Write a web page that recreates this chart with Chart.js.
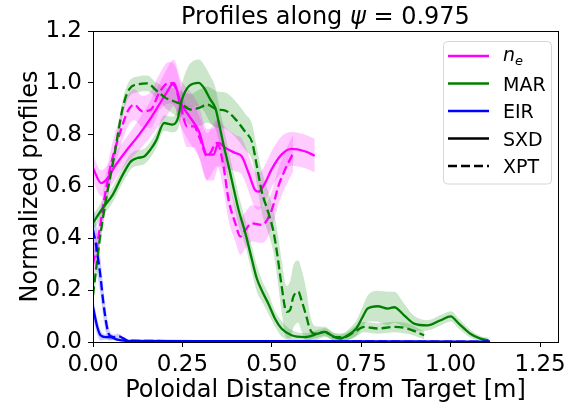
<!DOCTYPE html>
<html><head><meta charset="utf-8">
<script src="https://cdn.jsdelivr.net/npm/chart.js@4.4.0/dist/chart.umd.min.js"></script>
<style>html,body{margin:0;padding:0;background:#fff;}#wrap{width:570px;height:408px;position:relative;}</style>
</head><body><div id="wrap"><canvas id="c" width="570" height="408"></canvas></div>
<script>
// ---- data ----
const neSxdX = [0,0.023,0.037,0.064,0.092,0.129,0.162,0.185,0.205,0.226,0.245,0.27,0.296,0.319,0.337,0.351,0.37,0.398,0.416,0.435,0.453,0.463,0.481,0.499,0.527,0.555,0.592,0.62];
const neSxdY = [0.67,0.613,0.626,0.684,0.736,0.8,0.865,0.916,0.96,1.0,0.923,0.87,0.813,0.723,0.723,0.768,0.749,0.729,0.716,0.652,0.587,0.58,0.613,0.665,0.723,0.745,0.736,0.719];
const neSxdErr = [0.05,0.05,0.05,0.05,0.05,0.06,0.07,0.08,0.09,0.09,0.09,0.1,0.1,0.1,0.1,0.09,0.08,0.07,0.07,0.07,0.07,0.07,0.07,0.07,0.07,0.065,0.065,0.065];

const neXptX = [0,0.013,0.032,0.05,0.074,0.097,0.115,0.138,0.162,0.185,0.212,0.231,0.245,0.263,0.282,0.3,0.319,0.347,0.365,0.379,0.398,0.412,0.426,0.444,0.472,0.5,0.518,0.537,0.56];
const neXptY = [0.3,0.387,0.555,0.684,0.8,0.89,0.916,0.89,0.897,0.961,1.0,0.981,0.91,0.832,0.832,0.781,0.716,0.768,0.677,0.549,0.458,0.407,0.432,0.458,0.452,0.51,0.6,0.665,0.729];
const neXptErr = [0.06,0.06,0.06,0.06,0.06,0.06,0.06,0.06,0.07,0.07,0.08,0.08,0.08,0.08,0.08,0.08,0.09,0.09,0.09,0.08,0.07,0.07,0.07,0.07,0.07,0.07,0.07,0.07,0.07];

const marSxdX = [0,0.027,0.055,0.083,0.106,0.124,0.143,0.162,0.176,0.199,0.222,0.236,0.249,0.268,0.296,0.31,0.328,0.342,0.351,0.365,0.379,0.393,0.407,0.426,0.444,0.458,0.475,0.49,0.509,0.527,0.555,0.592,0.629,0.648,0.666,0.69,0.712,0.736,0.754,0.768,0.796,0.824,0.842,0.87,0.898,0.935,0.972,1.0,1.023,1.055,1.083,1.106];
const marSxdY = [0.46,0.516,0.568,0.645,0.697,0.71,0.716,0.745,0.776,0.845,0.839,0.858,0.936,0.987,1.0,0.981,0.936,0.903,0.852,0.761,0.68,0.594,0.51,0.42,0.32,0.245,0.19,0.149,0.09,0.052,0.026,0.019,0.032,0.039,0.026,0.013,0.026,0.052,0.097,0.129,0.138,0.129,0.134,0.103,0.071,0.064,0.084,0.099,0.071,0.032,0.013,0.006];
const marSxdErr = [0.03,0.03,0.03,0.03,0.03,0.03,0.03,0.03,0.03,0.03,0.03,0.04,0.06,0.08,0.09,0.09,0.09,0.08,0.07,0.07,0.06,0.06,0.06,0.05,0.05,0.05,0.04,0.04,0.03,0.03,0.02,0.015,0.015,0.015,0.015,0.015,0.02,0.03,0.04,0.05,0.06,0.065,0.06,0.045,0.03,0.02,0.02,0.02,0.02,0.015,0.01,0.01];

const marXptX = [0,0.009,0.018,0.037,0.06,0.083,0.101,0.129,0.152,0.176,0.203,0.226,0.249,0.273,0.296,0.319,0.347,0.37,0.398,0.426,0.445,0.458,0.472,0.49,0.504,0.515,0.527,0.541,0.551,0.56,0.574,0.583,0.597,0.606,0.62,0.648,0.676,0.703,0.731,0.759,0.796,0.842,0.879,0.926];
const marXptY = [0.18,0.284,0.387,0.555,0.723,0.903,0.975,0.995,0.998,0.972,0.942,0.929,0.916,0.897,0.903,0.916,0.897,0.893,0.86,0.81,0.77,0.68,0.58,0.5,0.43,0.34,0.22,0.116,0.123,0.174,0.194,0.161,0.097,0.052,0.032,0.039,0.019,0.019,0.039,0.058,0.052,0.058,0.052,0.026];
const marXptErr = [0.03,0.03,0.03,0.03,0.03,0.03,0.03,0.03,0.03,0.03,0.04,0.05,0.05,0.06,0.07,0.07,0.07,0.07,0.07,0.07,0.07,0.07,0.08,0.08,0.08,0.09,0.1,0.1,0.11,0.12,0.12,0.12,0.1,0.06,0.03,0.02,0.015,0.015,0.02,0.02,0.02,0.02,0.02,0.015];

const eirSxdX = [0,0.012,0.021,0.035,0.049,0.065,0.08,0.1,0.3,0.6,0.9,1.11];
const eirSxdY = [0.135,0.058,0.026,0.019,0.019,0.01,0.006,0.004,0.003,0.003,0.002,0.001];
const eirSxdErr = [0.04,0.03,0.02,0.01,0.01,0.005,0.003,0.002,0.002,0.002,0.001,0.001];

const eirXptX = [0,0.007,0.014,0.021,0.027,0.033,0.039,0.046,0.058,0.072,0.086,0.1,0.4,0.8,1.11];
const eirXptY = [0.432,0.387,0.323,0.252,0.174,0.11,0.058,0.026,0.019,0.022,0.013,0.005,0.003,0.002,0.001];
const eirXptErr = [0.1,0.09,0.08,0.07,0.06,0.05,0.04,0.02,0.01,0.01,0.005,0.003,0.002,0.002,0.001];

const xTickValues = [0,0.25,0.5,0.75,1.0,1.25];
const xTickLabels = ['0.00','0.25','0.50','0.75','1.00','1.25'];
const yTickValues = [0,0.2,0.4,0.6,0.8,1.0,1.2];
const yTickLabels = ['0.0','0.2','0.4','0.6','0.8','1.0','1.2'];

const titleParts = [['Profiles along ', 'normal'], ['ψ', 'oblique'], [' = 0.975', 'normal']];

const legendItems = [
  {label:'n', sub:'e', color:'#ff00ff', dash:[]},
  {label:'MAR', color:'#008000', dash:[]},
  {label:'EIR', color:'#0000ff', dash:[]},
  {label:'SXD', color:'#000000', dash:[]},
  {label:'XPT', color:'#000000', dash:[9,4]}
];

// ---- build datasets ----
const FONT = "'DejaVu Sans', sans-serif";
const DASH = [9,4];
const LW = 2.3;
const pts = (xs, ys) => xs.map((x,i)=>({x:x, y:ys[i]}));
const lowPts = (xs, ys, es) => xs.map((x,i)=>({x:x, y:ys[i]-es[i]}));
const upPts = (xs, ys, es) => xs.map((x,i)=>({x:x, y:ys[i]+es[i]}));

function band(xs, ys, es, rgba, order){
  return [
    {data: lowPts(xs,ys,es), borderWidth:0, pointRadius:0, fill:false, order:order, cubicInterpolationMode:'monotone', backgroundColor:rgba},
    {data: upPts(xs,ys,es), borderWidth:0, pointRadius:0, fill:'-1', backgroundColor:rgba, order:order, cubicInterpolationMode:'monotone'}
  ];
}
function line(xs, ys, color, dash, order){
  return {data: pts(xs,ys), borderColor:color, borderWidth:LW, borderDash:dash, pointRadius:0, fill:false, order:order, cubicInterpolationMode:'monotone'};
}
const M = 'rgba(255,0,255,0.2)', G = 'rgba(0,128,0,0.2)', B = 'rgba(0,0,255,0.2)';
const datasets = [].concat(
  band(neSxdX, neSxdY, neSxdErr, M, 10),
  band(neXptX, neXptY, neXptErr, M, 10),
  band(marSxdX, marSxdY, marSxdErr, G, 10),
  band(marXptX, marXptY, marXptErr, G, 10),
  band(eirSxdX, eirSxdY, eirSxdErr, B, 10),
  band(eirXptX, eirXptY, eirXptErr, B, 10),
  [
    line(eirSxdX, eirSxdY, '#0000ff', [], 0),
    line(eirXptX, eirXptY, '#0000ff', DASH, 1),
    line(marSxdX, marSxdY, '#008000', [], 2),
    line(marXptX, marXptY, '#008000', DASH, 3),
    line(neSxdX, neSxdY, '#ff00ff', [], 4),
    line(neXptX, neXptY, '#ff00ff', DASH, 5)
  ]
);

const framePlugin = {
  id:'frame',
  afterDatasetsDraw(chart){
    const {ctx, chartArea:a} = chart;
    ctx.save();
    ctx.strokeStyle = '#000'; ctx.lineWidth = 1;
    ctx.strokeRect(Math.round(a.left)+0.5, Math.round(a.top)+0.5, Math.round(a.right-a.left), Math.round(a.bottom-a.top));
    ctx.restore();
  }
};
const titlePlugin = {
  id:'mtitle',
  afterDraw(chart){
    const {ctx, chartArea:a} = chart;
    ctx.save();
    ctx.fillStyle = '#000'; ctx.textBaseline = 'alphabetic'; ctx.textAlign = 'left';
    let total = 0;
    const widths = titleParts.map(p => { ctx.font = p[1] + ' 24px ' + FONT; const w = ctx.measureText(p[0]).width; total += w; return w; });
    let x = (a.left + a.right)/2 - total/2;
    titleParts.forEach((p,i) => { ctx.font = p[1] + ' 24px ' + FONT; ctx.fillText(p[0], x, 23.5); x += widths[i]; });
    ctx.restore();
  }
};
const legendPlugin = {
  id:'inlegend',
  afterDraw(chart){
    const ctx = chart.ctx;
    const bx = 443.5, by = 41.5, bw = 108, bh = 142.5, r = 4;
    ctx.save();
    ctx.beginPath();
    ctx.moveTo(bx+r, by); ctx.lineTo(bx+bw-r, by); ctx.quadraticCurveTo(bx+bw, by, bx+bw, by+r);
    ctx.lineTo(bx+bw, by+bh-r); ctx.quadraticCurveTo(bx+bw, by+bh, bx+bw-r, by+bh);
    ctx.lineTo(bx+r, by+bh); ctx.quadraticCurveTo(bx, by+bh, bx, by+bh-r);
    ctx.lineTo(bx, by+r); ctx.quadraticCurveTo(bx, by, bx+r, by);
    ctx.closePath();
    ctx.fillStyle = 'rgba(255,255,255,0.8)'; ctx.fill();
    ctx.strokeStyle = '#d6d6d6'; ctx.lineWidth = 1; ctx.stroke();
    legendItems.forEach((it, i) => {
      const cy = 56 + i*27.5;
      ctx.beginPath();
      ctx.setLineDash(it.dash);
      ctx.strokeStyle = it.color; ctx.lineWidth = LW;
      ctx.moveTo(448, cy); ctx.lineTo(489, cy); ctx.stroke();
      ctx.setLineDash([]);
      ctx.fillStyle = '#000';
      ctx.textBaseline = 'alphabetic'; ctx.textAlign = 'left';
      if (it.sub) {
        ctx.font = "oblique 19px " + FONT;
        ctx.fillText(it.label, 503, cy + 5);
        const w = ctx.measureText(it.label).width;
        ctx.font = "oblique 13px " + FONT;
        ctx.fillText(it.sub, 503 + w, cy + 9);
      } else {
        ctx.font = "19px " + FONT;
        ctx.fillText(it.label, 503, cy + 7);
      }
    });
    ctx.restore();
  }
};

new Chart(document.getElementById('c'), {
  type:'line',
  data:{datasets: datasets},
  plugins:[framePlugin, titlePlugin, legendPlugin],
  options:{
    responsive:false, animation:false, devicePixelRatio:1,
    layout:{padding:{left:0, right:9, top:31, bottom:0}},
    plugins:{
      legend:{display:false}, tooltip:{enabled:false}, title:{display:false}
    },
    scales:{
      x:{type:'linear', min:0, max:1.3,
        afterFit(s){ s.height = 66; },
        afterBuildTicks(s){ s.ticks = xTickValues.map(v=>({value:v})); },
        ticks:{includeBounds:false, color:'#000', padding:4, maxRotation:0, autoSkip:false,
          font:{family:FONT, size:23}, callback:(v,i)=>xTickLabels[i]},
        grid:{display:true, drawOnChartArea:false, drawTicks:true, tickLength:5, color:'#000'},
        border:{display:false},
        title:{display:true, text:'Poloidal Distance from Target [m]', color:'#000',
          font:{family:FONT, size:24, lineHeight:1.2}, padding:{top:0, bottom:3}}
      },
      y:{type:'linear', min:0, max:1.2,
        afterFit(s){ s.width = 93; },
        afterBuildTicks(s){ s.ticks = yTickValues.map(v=>({value:v})); },
        ticks:{includeBounds:false, color:'#000', padding:6, autoSkip:false,
          font:{family:FONT, size:23}, callback:(v,i)=>yTickLabels[i]},
        grid:{display:true, drawOnChartArea:false, drawTicks:true, tickLength:5, color:'#000'},
        border:{display:false},
        title:{display:true, text:'Normalized profiles', color:'#000',
          font:{family:FONT, size:24, lineHeight:1.2}, padding:{top:16, bottom:0}}
      }
    }
  }
});
</script></body></html>
